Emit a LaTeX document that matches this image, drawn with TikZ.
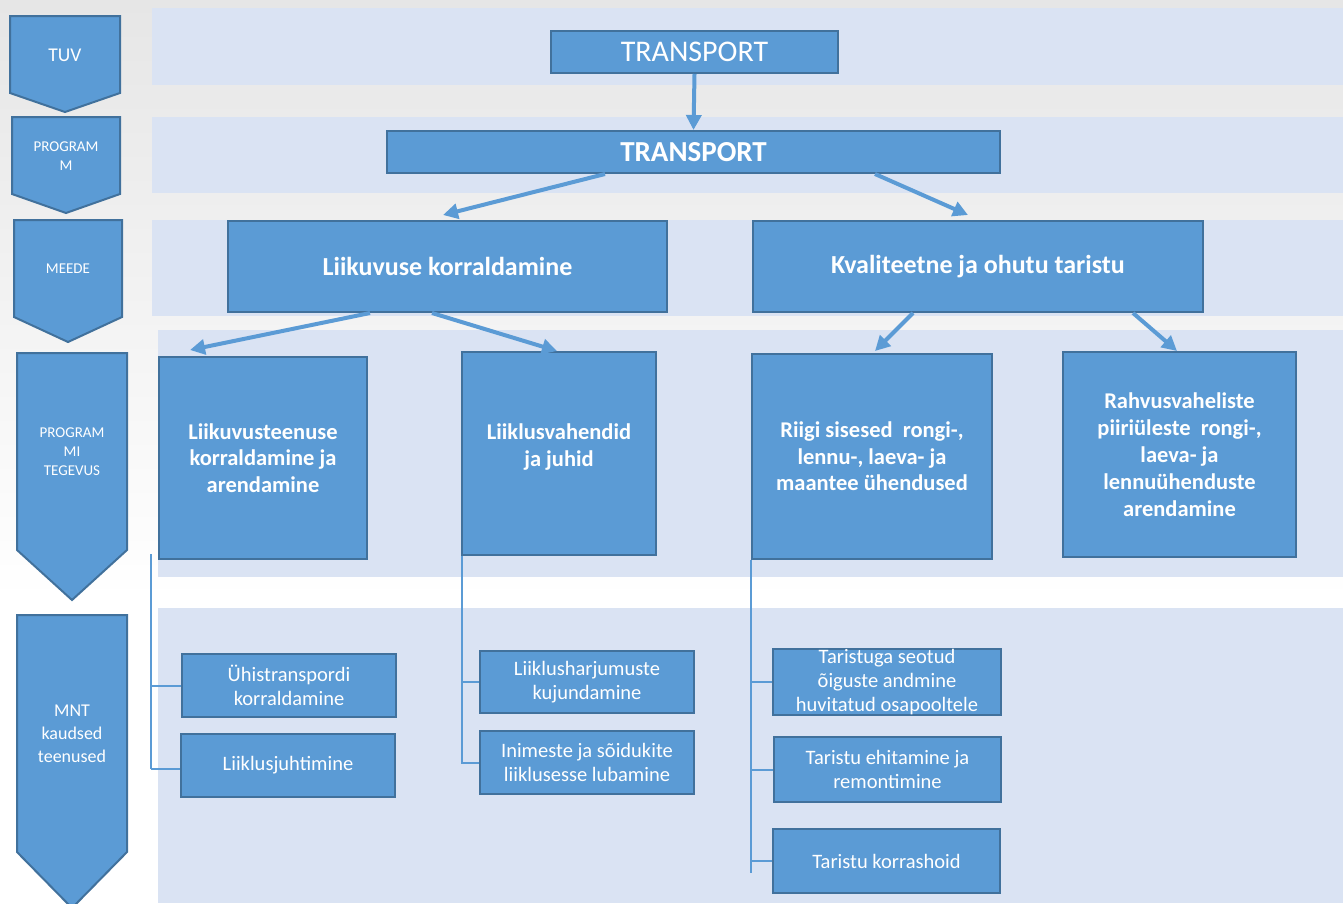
\documentclass[tikz,border=0pt]{standalone}
\usepackage{fontspec}
\setmainfont{Carlito}
\usetikzlibrary{arrows.meta, calc}
\definecolor{boxfill}{HTML}{5B9BD5}
\definecolor{boxline}{HTML}{41719C}
\definecolor{band}{HTML}{DAE3F3}
\definecolor{backgray}{HTML}{E6E6E6}

\begin{document}
\begin{tikzpicture}[x=1pt, y=-1pt,
    box/.style={draw=boxline, fill=boxfill, line width=2pt, text=white, align=center, inner sep=1pt},
    chev/.style={draw=boxline, fill=boxfill, line width=2pt},
    lvl/.style={text=white, align=center, inner sep=0pt},
    arr/.style={draw=boxfill, line width=4pt, -{Triangle[length=15pt,width=15pt]}},
    tree/.style={draw=boxfill, line width=2pt}]
    \shade[top color=backgray, bottom color=white] (0,0) rectangle (1343,600);
    \fill[white] (0,600) rectangle (1343,903);
    \useasboundingbox (0,0) rectangle (1343,903);

    \fill[band] (152,8) rectangle (1343,85);
    \fill[band] (152,117) rectangle (1343,193);
    \fill[band] (152,220) rectangle (1343,316);
    \fill[band] (158,330) rectangle (1343,577);
    \fill[band] (158,608) rectangle (1343,903);

    \draw[chev] (10,16) -- (120,16) -- (120,93) -- (65,112) -- (10,93) -- cycle;
    \draw[chev] (12,117) -- (120,117) -- (120,194) -- (66,213) -- (12,194) -- cycle;
    \draw[chev] (14,220) -- (122,220) -- (122,317) -- (68,342) -- (14,317) -- cycle;
    \draw[chev] (17,353) -- (127,353) -- (127,550) -- (72,600) -- (17,550) -- cycle;
    \draw[chev] (17,615) -- (127,615) -- (127,852) -- (72,908) -- (17,852) -- cycle;
    \node[lvl, font=\fontsize{19.5}{23}\selectfont] (tuv) at (65,55) {TUV};
    \node[lvl, font=\fontsize{15}{19}\selectfont] (prog) at (66,156) {PROGRAM\\M};
    \node[lvl, font=\fontsize{15}{19}\selectfont] (meede) at (68,269) {MEEDE};
    \node[lvl, font=\fontsize{15}{19}\selectfont] (tegevus) at (72,452) {PROGRAM\\MI\\TEGEVUS};
    \node[lvl, font=\fontsize{18}{23}\selectfont] (mnt) at (72,734) {MNT\\kaudsed\\teenused};

    \node[box, minimum width=287, minimum height=42, font=\fontsize{30}{36}\selectfont] (t1) at (694.5,52) {TRANSPORT};
    \node[box, minimum width=613, minimum height=42, font=\fontsize{29}{36}\selectfont\bfseries] (t2) at (693.5,152) {TRANSPORT};
    \node[box, minimum width=439, minimum height=91, font=\fontsize{26}{30}\selectfont\bfseries] (m1) at (447.5,266.5) {Liikuvuse korraldamine};
    \node[box, minimum width=450, minimum height=91, font=\fontsize{26}{30}\selectfont\bfseries] (m2) at (978,266.5) {Kvaliteetne ja ohutu taristu};

    \node[box, minimum width=208, minimum height=202, font=\fontsize{22.5}{26.5}\selectfont\bfseries] (a1) at (263,458) {Liikuvusteenuse\\korraldamine ja\\arendamine};
    \node[box, minimum width=194, minimum height=203, font=\fontsize{22.5}{27}\selectfont\bfseries] (a2) at (559,453.5) {Liiklusvahendid\\ja juhid\\[-11pt]};
    \node[box, minimum width=240, minimum height=205, font=\fontsize{22.5}{26.5}\selectfont\bfseries] (a3) at (872,456.5) {Riigi sisesed~ rongi-,\\lennu-, laeva- ja\\maantee ühendused};
    \node[box, minimum width=233, minimum height=205, font=\fontsize{22.5}{27}\selectfont\bfseries] (a4) at (1179.5,454.5) {Rahvusvaheliste\\piiriüleste~ rongi-,\\laeva- ja\\lennuühenduste\\arendamine};

    \node[box, minimum width=214, minimum height=63, font=\fontsize{20.5}{24}\selectfont] (b1) at (289,685.5) {Ühistranspordi\\korraldamine};
    \node[box, minimum width=214, minimum height=63, font=\fontsize{20.5}{24}\selectfont] (b2) at (288,765.5) {Liiklusjuhtimine};
    \node[box, minimum width=214, minimum height=62, font=\fontsize{20.5}{24}\selectfont] (c1) at (587,682) {Liiklusharjumuste\\kujundamine};
    \node[box, minimum width=214, minimum height=63, font=\fontsize{20.5}{24}\selectfont] (c2) at (587,762.5) {Inimeste ja sõidukite\\liiklusesse lubamine};
    \node[box, minimum width=228, minimum height=64, inner sep=0pt, font=\fontsize{20.5}{24}\selectfont] (d1) at (887,682) {Taristuga seotud\\õiguste andmine\\huvitatud osapooltele};
    \node[box, minimum width=227, minimum height=65, font=\fontsize{20.5}{24}\selectfont] (d2) at (887.5,769.5) {Taristu ehitamine ja\\remontimine};
    \node[box, minimum width=227, minimum height=64, font=\fontsize{20.5}{24}\selectfont] (d3) at (886.5,861) {Taristu korrashoid};

    \draw[arr] (t1.south) -- (t2.north);
    \draw[arr] ($(t2.south)+(-88.5,0)$) -- ($(m1.north)+(-4.5,-5)$);
    \draw[arr] ($(t2.south)+(181.5,0)$) -- ($(m2.north)+(-10,-5)$);
    \draw[arr] ($(m1.south)+(-77.5,0)$) -- ($(a1.north)+(-73,-6)$);
    \draw[arr] ($(m1.south)+(-15.5,0)$) -- ($(a2.north)+(-2,0)$);
    \draw[arr] ($(m2.south)+(-65,0)$) -- ($(a3.north)+(3,-2)$);
    \draw[arr] ($(m2.south)+(155,0)$) -- ($(a4.north)+(-2.5,0)$);

    \coordinate (ta) at ($(a1.south west)+(-7,-6)$);
    \coordinate (tb) at ($(a2.south west)+(1,0)$);
    \coordinate (tc) at (a3.south west);
    \draw[tree] (ta) -- (ta |- 0,769);
    \draw[tree] (ta |- b1.west) -- (b1.west);
    \draw[tree] (ta |- 0,769) -- (b2.west |- 0,769);
    \draw[tree] (tb) -- (tb |- c2.west) -- (c2.west);
    \draw[tree] (tb |- c1.west) -- (c1.west);
    \draw[tree] (tc) -- (tc |- 0,873);
    \draw[tree] (tc |- d1.west) -- (d1.west);
    \draw[tree] (tc |- d2.west) -- (d2.west);
    \draw[tree] (tc |- d3.west) -- (d3.west);
\end{tikzpicture}
\end{document}
